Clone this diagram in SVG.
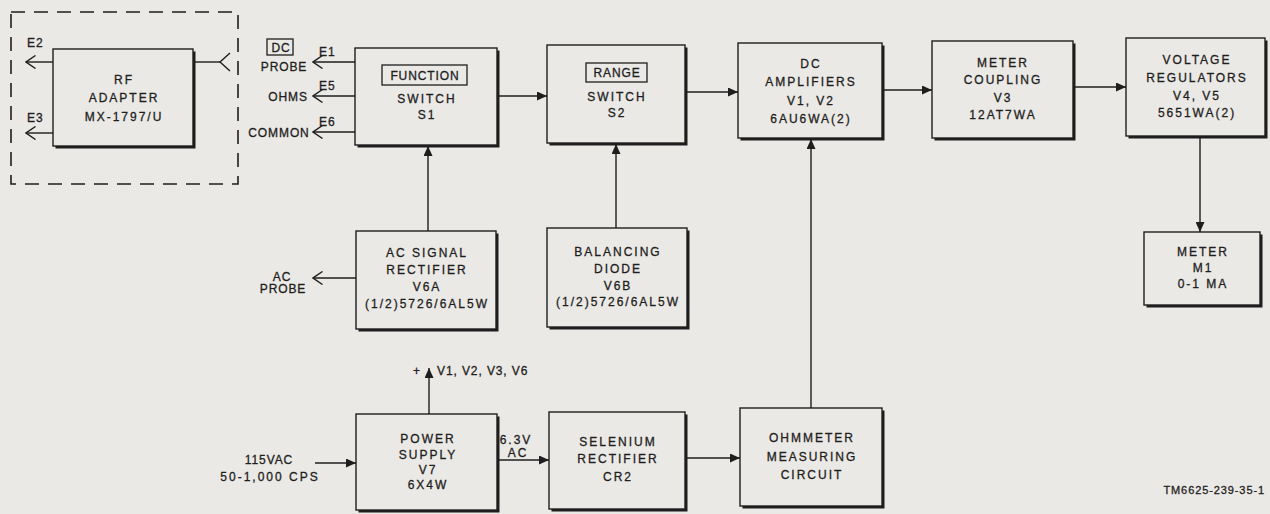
<svg xmlns="http://www.w3.org/2000/svg" width="1270" height="514" viewBox="0 0 1270 514">
<defs>
<style>
.bg{fill:#ebe9e5}
.sh{fill:#1e1e1e}
.box{fill:#ebe9e5;stroke:#1e1e1e;stroke-width:1.4}
.lbl{fill:none;stroke:#1e1e1e;stroke-width:1.3}
text{font-family:"Liberation Sans",Arial,sans-serif;font-size:12px;fill:#1e1e1e;stroke:#1e1e1e;stroke-width:0.3;letter-spacing:2px}
.c{text-anchor:middle}
.s{letter-spacing:0.9px}
.r{text-anchor:end}
.ln{fill:none;stroke:#1e1e1e;stroke-width:1.4}
.dash{fill:none;stroke:#1e1e1e;stroke-width:1.6;stroke-dasharray:14 9}
</style>
<marker id="fa" markerUnits="userSpaceOnUse" markerWidth="11" markerHeight="9" viewBox="0 0 11 9" refX="10" refY="4.5" orient="auto">
<path d="M0,0 L10,4.5 L0,9 z" fill="#1e1e1e"/>
</marker>
<marker id="oa" markerUnits="userSpaceOnUse" markerWidth="12" markerHeight="14" viewBox="0 0 12 14" refX="10.5" refY="7" orient="auto">
<path d="M1,0.5 L10.5,7 L1,13.5" fill="none" stroke="#1e1e1e" stroke-width="1.4"/>
</marker>
</defs>
<rect class="bg" x="0" y="0" width="1270" height="514"/>

<g id="rf-enclosure">
<rect class="dash" x="11" y="12" width="227" height="172"/>
</g>

<g id="rf-adapter">
<rect class="sh" x="55.5" y="51.5" width="140" height="97"/>
<rect class="box" x="53" y="49" width="140" height="97"/>
<text class="c" x="124" y="84">RF</text>
<text class="c" x="124" y="102">ADAPTER</text>
<text class="c" x="124" y="121">MX-1797/U</text>
</g>

<g id="function-switch">
<rect class="sh" x="357.5" y="50.5" width="142" height="97"/>
<rect class="box" x="355" y="48" width="142" height="97"/>
<rect class="lbl" x="382" y="65" width="85" height="20"/>
<text class="c s" x="425" y="79.5">FUNCTION</text>
<text class="c" x="427" y="103">SWITCH</text>
<text class="c" x="427" y="119">S1</text>
</g>

<g id="range-switch">
<rect class="sh" x="549.5" y="47.5" width="138" height="98"/>
<rect class="box" x="547" y="45" width="138" height="98"/>
<rect class="lbl" x="586" y="63" width="61" height="19"/>
<text class="c s" x="617" y="77">RANGE</text>
<text class="c" x="617" y="101">SWITCH</text>
<text class="c" x="617" y="117">S2</text>
</g>

<g id="dc-amplifiers">
<rect class="sh" x="740.5" y="45.5" width="144" height="95"/>
<rect class="box" x="738" y="43" width="144" height="95"/>
<text class="c" x="811" y="68">DC</text>
<text class="c" x="811" y="86">AMPLIFIERS</text>
<text class="c" x="811" y="105">V1, V2</text>
<text class="c" x="811" y="123">6AU6WA(2)</text>
</g>

<g id="meter-coupling">
<rect class="sh" x="934.5" y="43.5" width="141" height="97"/>
<rect class="box" x="932" y="41" width="141" height="97"/>
<text class="c" x="1003" y="67">METER</text>
<text class="c" x="1003" y="84">COUPLING</text>
<text class="c" x="1003" y="102">V3</text>
<text class="c" x="1003" y="119">12AT7WA</text>
</g>

<g id="voltage-regulators">
<rect class="sh" x="1128.5" y="40.5" width="139" height="98"/>
<rect class="box" x="1126" y="38" width="139" height="98"/>
<text class="c" x="1197" y="64">VOLTAGE</text>
<text class="c" x="1197" y="82">REGULATORS</text>
<text class="c" x="1197" y="100">V4, V5</text>
<text class="c" x="1197" y="117">5651WA(2)</text>
</g>

<g id="meter-m1">
<rect class="sh" x="1146.5" y="234.5" width="116" height="73"/>
<rect class="box" x="1144" y="232" width="116" height="73"/>
<text class="c" x="1203" y="256">METER</text>
<text class="c" x="1203" y="272">M1</text>
<text class="c" x="1203" y="288">0-1 MA</text>
</g>

<g id="ac-signal-rectifier">
<rect class="sh" x="358.5" y="233.5" width="140" height="98"/>
<rect class="box" x="356" y="231" width="140" height="98"/>
<text class="c" x="427" y="257">AC SIGNAL</text>
<text class="c" x="427" y="274">RECTIFIER</text>
<text class="c" x="427" y="291">V6A</text>
<text class="c" x="427" y="308">(1/2)5726/6AL5W</text>
</g>

<g id="balancing-diode">
<rect class="sh" x="549.5" y="230.5" width="140" height="99"/>
<rect class="box" x="547" y="228" width="140" height="99"/>
<text class="c" x="618" y="256">BALANCING</text>
<text class="c" x="618" y="273">DIODE</text>
<text class="c" x="618" y="290">V6B</text>
<text class="c" x="618" y="306">(1/2)5726/6AL5W</text>
</g>

<g id="power-supply">
<rect class="sh" x="358.5" y="416.5" width="141" height="96"/>
<rect class="box" x="356" y="414" width="141" height="96"/>
<text class="c" x="428" y="443">POWER</text>
<text class="c" x="428" y="459">SUPPLY</text>
<text class="c" x="428" y="474">V7</text>
<text class="c" x="428" y="489">6X4W</text>
</g>

<g id="selenium-rectifier">
<rect class="sh" x="551.5" y="414.5" width="136" height="97"/>
<rect class="box" x="549" y="412" width="136" height="97"/>
<text class="c" x="618" y="446">SELENIUM</text>
<text class="c" x="618" y="463">RECTIFIER</text>
<text class="c" x="618" y="481">CR2</text>
</g>

<g id="ohmmeter">
<rect class="sh" x="742.5" y="410.5" width="142" height="98"/>
<rect class="box" x="740" y="408" width="142" height="98"/>
<text class="c" x="812" y="442">OHMMETER</text>
<text class="c" x="812" y="461">MEASURING</text>
<text class="c" x="812" y="479">CIRCUIT</text>
</g>

<g id="connectors">
<line class="ln" x1="53" y1="62" x2="26" y2="62" marker-end="url(#oa)"/>
<line class="ln" x1="53" y1="133" x2="26" y2="133" marker-end="url(#oa)"/>
<line class="ln" x1="193" y1="62" x2="220" y2="62"/>
<path class="ln" d="M230,53 L220,62 L230,71"/>
<line class="ln" x1="355" y1="62" x2="313" y2="62" marker-end="url(#oa)"/>
<line class="ln" x1="355" y1="96" x2="313" y2="96" marker-end="url(#oa)"/>
<line class="ln" x1="355" y1="132" x2="313" y2="132" marker-end="url(#oa)"/>
<line class="ln" x1="356" y1="278" x2="313" y2="278" marker-end="url(#oa)"/>
<line class="ln" x1="497" y1="96" x2="547" y2="96" marker-end="url(#fa)"/>
<line class="ln" x1="685" y1="92" x2="738" y2="92" marker-end="url(#fa)"/>
<line class="ln" x1="882" y1="90" x2="932" y2="90" marker-end="url(#fa)"/>
<line class="ln" x1="1073" y1="87" x2="1126" y2="87" marker-end="url(#fa)"/>
<line class="ln" x1="1200" y1="136" x2="1200" y2="232" marker-end="url(#fa)"/>
<line class="ln" x1="428" y1="231" x2="428" y2="146" marker-end="url(#fa)"/>
<line class="ln" x1="616" y1="228" x2="616" y2="144" marker-end="url(#fa)"/>
<line class="ln" x1="811" y1="408" x2="811" y2="139" marker-end="url(#fa)"/>
<line class="ln" x1="429" y1="414" x2="429" y2="368" marker-end="url(#fa)"/>
<line class="ln" x1="315" y1="463" x2="356" y2="463" marker-end="url(#fa)"/>
<line class="ln" x1="497" y1="460" x2="549" y2="460" marker-end="url(#fa)"/>
<line class="ln" x1="685" y1="458" x2="740" y2="458" marker-end="url(#fa)"/>
</g>

<g id="labels">
<text class="s" x="27" y="47">E2</text>
<text class="s" x="27" y="122">E3</text>
<rect class="lbl" x="267" y="39" width="26" height="16"/>
<text class="c s" x="281" y="51.5">DC</text>
<text class="c s" x="284" y="71">PROBE</text>
<text class="c s" x="288" y="101">OHMS</text>
<text class="c s" x="279" y="137">COMMON</text>
<text class="s" x="319" y="56">E1</text>
<text class="s" x="319" y="90">E5</text>
<text class="s" x="319" y="126">E6</text>
<text class="c s" x="282" y="281">AC</text>
<text class="c s" x="283" y="293">PROBE</text>
<text class="s" x="413" y="375">+</text>
<text class="s" x="437" y="375">V1, V2, V3, V6</text>
<text class="c" x="516" y="444">6.3V</text>
<text class="c" x="518" y="457">AC</text>
<text class="c s" x="269" y="464">115VAC</text>
<text class="c" x="270" y="481">50-1,000 CPS</text>
<text class="r s" x="1265" y="494" style="font-size:11px">TM6625-239-35-1</text>
</g>
</svg>
